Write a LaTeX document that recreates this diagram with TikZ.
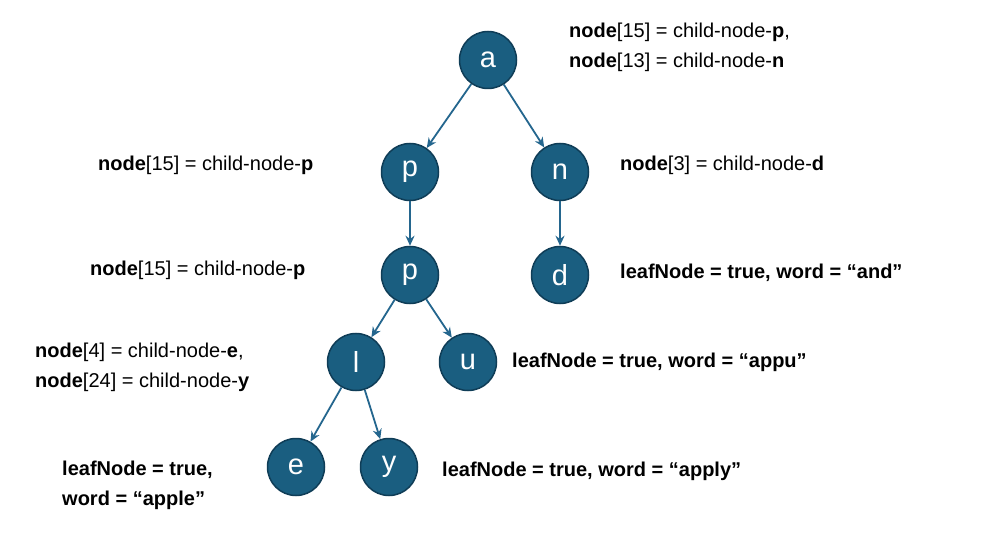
\documentclass[tikz,border=0pt]{standalone}
\usepackage{fontspec}
\setmainfont{Liberation Sans}
\usetikzlibrary{arrows.meta}
\definecolor{nfill}{HTML}{1A5E80}
\definecolor{nline}{HTML}{0F3D57}
\definecolor{edge}{HTML}{24668E}
\begin{document}
\begin{tikzpicture}[x=1pt,y=-1pt,
  tn/.style={circle,fill=nfill,draw=nline,line width=1.5pt,minimum size=57pt,inner sep=0pt,text=white,font=\fontsize{29}{29}\selectfont},
  lab/.style={anchor=west,inner sep=0pt,align=left,font=\fontsize{20}{30}\selectfont},
  ed/.style={draw=edge,line width=1.8pt,-{Stealth[length=10pt,width=9pt]}}]
\useasboundingbox[fill=white] (0,0) rectangle (991,540);
\node[tn] (a) at (488,60) {a};
\node[tn] (p1) at (410,172) {p};
\node[tn] (n) at (560,172) {n};
\node[tn] (p2) at (410,275) {p};
\node[tn] (d) at (560,275) {d};
\node[tn] (l) at (356,362) {l};
\node[tn] (u) at (468,362) {u};
\node[tn] (e) at (296,467) {e};
\node[tn] (y) at (389,467) {y};
\draw[ed] (a) -- (p1);
\draw[ed] (a) -- (n);
\draw[ed] (p1) -- (p2);
\draw[ed] (n) -- (d);
\draw[ed] (p2) -- (l);
\draw[ed] (p2) -- (u);
\draw[ed] (l) -- (e);
\draw[ed] (l) -- (y);
\node[lab] (t1) at (569,47) {\textbf{node}[15] = child-node-\textbf{p},\\\textbf{node}[13] = child-node-\textbf{n}};
\node[lab] (t2) at (98,165) {\textbf{node}[15] = child-node-\textbf{p}};
\node[lab] (t3) at (620,165) {\textbf{node}[3] = child-node-\textbf{d}};
\node[lab] (t4) at (90,270) {\textbf{node}[15] = child-node-\textbf{p}};
\node[lab] (t5) at (620,273) {\textbf{leafNode = true, word = “and”}};
\node[lab] (t6) at (35,367) {\textbf{node}[4] = child-node-\textbf{e},\\\textbf{node}[24] = child-node-\textbf{y}};
\node[lab] (t7) at (512,362) {\textbf{leafNode = true, word = “appu”}};
\node[lab] (t8) at (62,485) {\textbf{leafNode = true,}\\\textbf{word = “apple”}};
\node[lab] (t9) at (442,471) {\textbf{leafNode = true, word = “apply”}};
\end{tikzpicture}
\end{document}
